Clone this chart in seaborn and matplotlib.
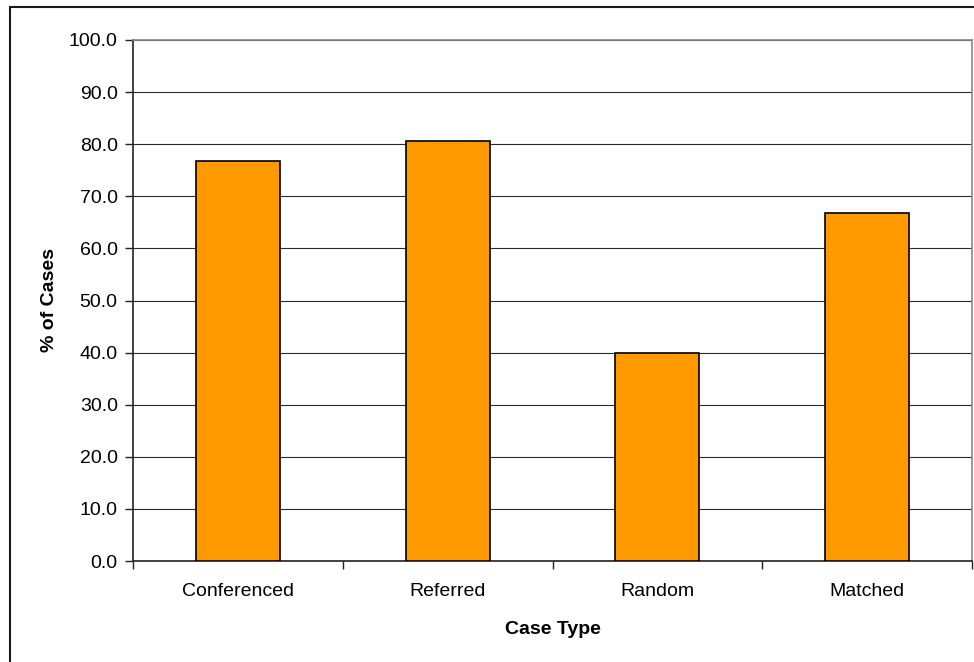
import matplotlib
matplotlib.use("Agg")
import matplotlib.pyplot as plt
import matplotlib.patches as mpatches
import seaborn as sns
import pandas as pd
import numpy as np

# Share of cases by case type
case_types = ["Conferenced", "Referred", "Random", "Matched"]
pct_cases = [76.7, 80.6, 40.0, 66.7]
y_ticks = [0, 10, 20, 30, 40, 50, 60, 70, 80, 90, 100]

sns.set_theme(style="white")
plt.rcParams["font.family"] = ["Liberation Sans", "DejaVu Sans"]

df = pd.DataFrame({"Case Type": case_types, "% of Cases": pct_cases})

fig = plt.figure(figsize=(9.74, 6.62), dpi=100)
fig.patch.set_facecolor("white")

# Outer chart frame (runs off the right and bottom edges)
fig.patches.append(mpatches.Rectangle((10 / 974, -0.1), 1.2, 1 - 7 / 662 + 0.1,
                                      transform=fig.transFigure, fill=False,
                                      edgecolor="#1a1a1a", linewidth=1.5, zorder=0))

ax = fig.add_axes([133 / 974, 1 - 561 / 662, (972 - 133) / 974, (561 - 40) / 662])

sns.barplot(data=df, x="Case Type", y="% of Cases", color="#FF9900",
            width=0.4, edgecolor="black", linewidth=1.2, saturation=1,
            ax=ax, zorder=3)

ax.set_xlim(-0.5, 3.5)
ax.set_ylim(0, 100)
ax.set_yticks(y_ticks)
ax.set_yticklabels([f"{v:.1f}" for v in y_ticks], fontsize=14)
ax.yaxis.grid(True, color="#2b2b2b", linewidth=0.8, zorder=0)
ax.set_axisbelow(True)

# Category labels without marks; marks sit on the category boundaries
ax.set_xticks(range(len(case_types)))
ax.set_xticklabels(case_types, fontsize=14)
ax.tick_params(axis="x", which="major", length=0, pad=16)
ax.set_xticks(np.arange(-0.5, len(case_types), 1.0), minor=True)
ax.tick_params(axis="x", which="minor", length=6, width=1, color="#222222",
               direction="out", bottom=True)
ax.tick_params(axis="y", length=6, width=1, color="#222222", direction="out",
               left=True, pad=5)

for side in ["left", "bottom"]:
    ax.spines[side].set_color("#222222")
    ax.spines[side].set_linewidth(1.2)
for side in ["top", "right"]:
    ax.spines[side].set_visible(True)
    ax.spines[side].set_color("#888888")
    ax.spines[side].set_linewidth(1.2)

ax.set_xlabel("Case Type", fontsize=14, fontweight="bold", labelpad=15, color="black")
ax.set_ylabel("% of Cases", fontsize=14, fontweight="bold", labelpad=8, color="black")
ax.tick_params(labelcolor="black")

fig.savefig("out.png", dpi=100)
